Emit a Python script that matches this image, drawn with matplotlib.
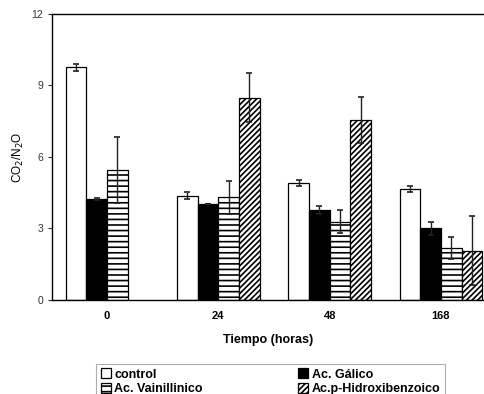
import numpy as np
import matplotlib.pyplot as plt

plt.rcParams['font.family'] = ['Liberation Sans', 'DejaVu Sans']
plt.rcParams['hatch.linewidth'] = 1.2

tiempos = ['0', '24', '48', '168']
series = ['control', 'Ac. Gálico', 'Ac. Vainillinico', 'Ac.p-Hidroxibenzoico']

control = [9.76, 4.38, 4.90, 4.65]
galico = [4.24, 4.03, 3.78, 3.01]
vainillinico = [5.45, 4.31, 3.29, 2.17]
hidroxi = [np.nan, 8.49, 7.55, 2.07]

err_control = [0.15, 0.15, 0.12, 0.13]
err_galico = [0.03, 0.0, 0.18, 0.28]
err_vainillinico = [1.37, 0.70, 0.50, 0.47]
err_hidroxi = [np.nan, 1.04, 0.95, 1.45]

valores = [control, galico, vainillinico, hidroxi]
errores = [err_control, err_galico, err_vainillinico, err_hidroxi]
colores = ['white', 'black', 'white', 'white']
tramas = [None, None, '---', '//////']

fig = plt.figure(figsize=(4.84, 3.94), dpi=100)
ax = fig.add_axes([0.1074, 0.2386, 0.8926, 0.7259])

x = np.arange(len(tiempos))
w = 0.185
barras = []
for i in range(4):
    b = ax.bar(x + (i - 1.5) * w, valores[i], w, color=colores[i],
               edgecolor='black', linewidth=0.9, hatch=tramas[i],
               label=series[i], zorder=2)
    ax.errorbar(x + (i - 1.5) * w, valores[i], yerr=errores[i], fmt='none',
                ecolor='#222222', elinewidth=1.0, capsize=2.5, capthick=1.2,
                zorder=3)
    barras.append(b)

ax.set_xlim(-0.495, 3.387)
ax.set_ylim(0, 12)
ax.set_yticks([0, 3, 6, 9, 12])
ax.set_xticks(x)
ax.set_xticklabels(tiempos, fontweight='bold', fontsize=8)
ax.tick_params(axis='x', length=0, pad=8)
ax.tick_params(axis='y', labelsize=7.5, length=3, width=0.8, direction='out',
               colors='#333333')
ax.spines['right'].set_visible(False)
for s in ['left', 'top', 'bottom']:
    ax.spines[s].set_linewidth(1.0)

ax.set_ylabel('CO$_2$/N$_2$O', fontsize=8.5, labelpad=4)
ax.set_xlabel('Tiempo (horas)', fontsize=9, fontweight='bold', labelpad=9)

# two rows: control / Gálico on top, Vainillinico / Hidroxibenzoico below
orden = [0, 2, 1, 3]
leg = fig.legend(handles=[barras[i] for i in orden],
                 labels=[series[i] for i in orden], ncol=2,
                 loc='upper left', bbox_to_anchor=(0.186, 0.092),
                 frameon=True, fancybox=False,
                 handlelength=0.8, handleheight=0.8, handletextpad=0.3,
                 borderpad=0.35, labelspacing=0.2, columnspacing=7.6,
                 prop={'weight': 'bold', 'size': 9})
leg.get_frame().set_edgecolor('#999999')
leg.get_frame().set_linewidth(0.8)

fig.savefig('out.png', dpi=100)
